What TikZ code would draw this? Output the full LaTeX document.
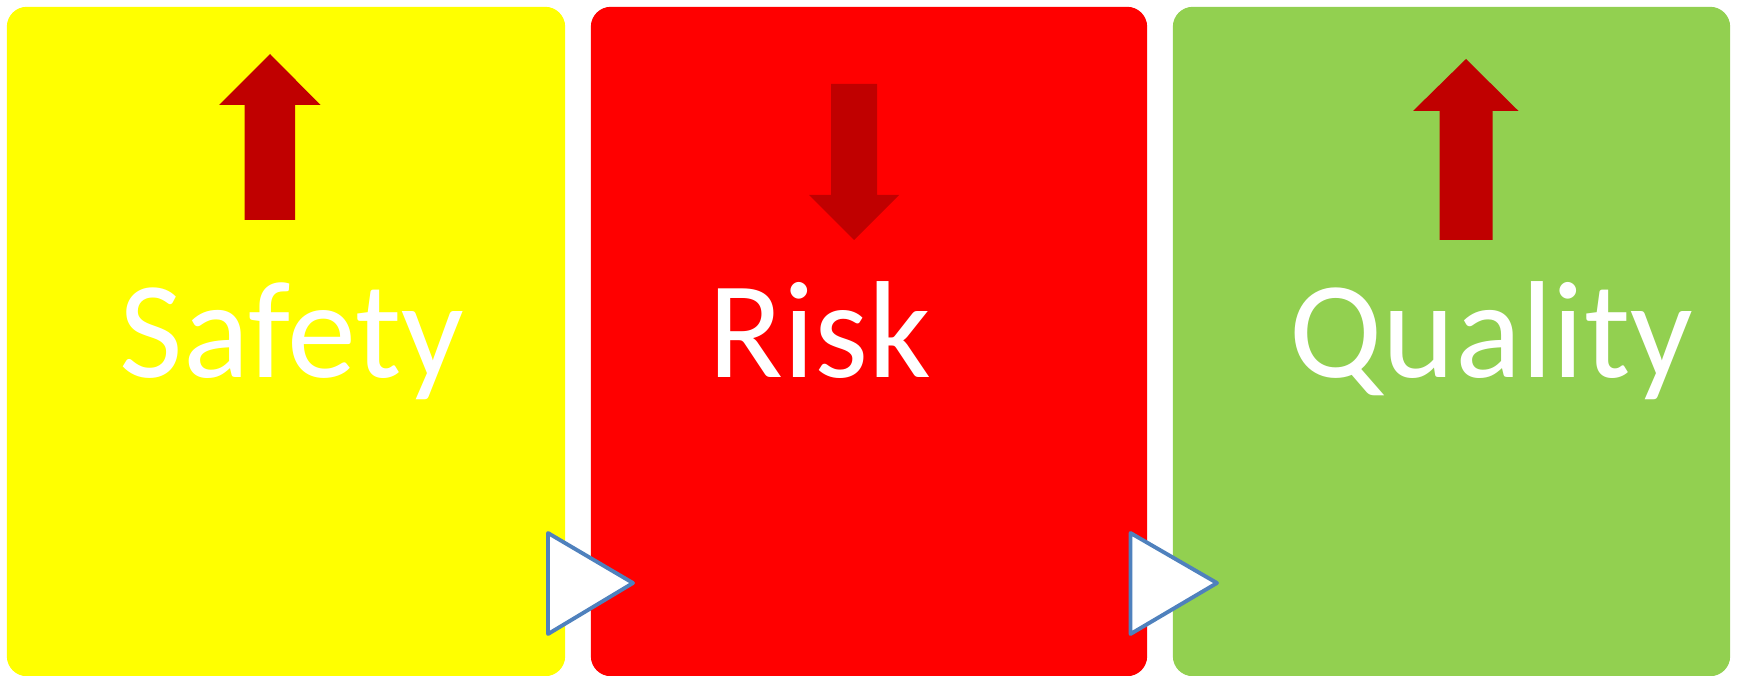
\documentclass[tikz,border=0pt]{standalone}
\usepackage{fontspec}
\setmainfont{Carlito}
\usepackage{xcolor}
\definecolor{srqyellow}{RGB}{255, 255, 0}
\definecolor{srqred}{RGB}{255, 0, 0}
\definecolor{srqgreen}{HTML}{92D050}
\definecolor{srqdarkred}{HTML}{C00000}
\definecolor{srqblue}{HTML}{4F81BD}
\usepackage{tikz}
\tikzset{
  % --- PANELS ---
  panel/.style={
    draw=none,
    rounded corners=0.2cm,
    minimum height=6.69cm,
    inner sep=0pt
  },
  panel-yellow/.style={panel, fill=srqyellow, minimum width=5.58cm},
  panel-red/.style={panel, fill=srqred, minimum width=5.56cm},
  panel-green/.style={panel, fill=srqgreen, minimum width=5.57cm},
  % --- LABELS ---
  panel-title/.style={
    text=white,
    font=\fontsize{39.3}{47}\selectfont,
    inner sep=0pt,
    anchor=base
  },
  % --- ARROWS ---
  trend-arrw/.style={
    fill=srqdarkred,
    draw=none
  },
  flow-marker/.style={
    fill=white,
    draw=srqblue,
    line width=1.1pt,
    line join=round
  },
}

\begin{document}
\begin{tikzpicture}[x=0.01cm, y=-0.01cm]
  \useasboundingbox (0, 0) rectangle (1739, 676);

  % --- panels
  \node[panel-yellow] (safety-box)  at (286, 341.5)    {};
  \node[panel-red]    (risk-box)    at (869, 341.5)    {};
  \node[panel-green]  (quality-box) at (1451.5, 341.5) {};

  % --- titles
  \node[panel-title] (safety-title)  at (292, 377)    {Safety};
  \node[panel-title] (risk-title)    at (820, 377)    {Risk};
  \node[panel-title] (quality-title) at (1491.5, 377) {Quality};

  % --- trend arrows
  \fill[trend-arrw] (244.5, 220) -- (244.5, 105) -- (219, 105) -- (270, 54)
    -- (320.5, 105) -- (295, 105) -- (295, 220) -- cycle;
  \fill[trend-arrw] (831, 84) -- (877, 84) -- (877, 195) -- (899, 195)
    -- (854, 240) -- (809, 195) -- (831, 195) -- cycle;
  \fill[trend-arrw] (1439.5, 240) -- (1439.5, 111) -- (1413, 111) -- (1466, 59)
    -- (1518.5, 111) -- (1492.5, 111) -- (1492.5, 240) -- cycle;

  % --- flow markers
  \draw[flow-marker] (548, 533) -- (633, 583) -- (548, 634) -- cycle;
  \draw[flow-marker] (1130.5, 533) -- (1217, 583) -- (1130.5, 634) -- cycle;

\end{tikzpicture}
\end{document}
